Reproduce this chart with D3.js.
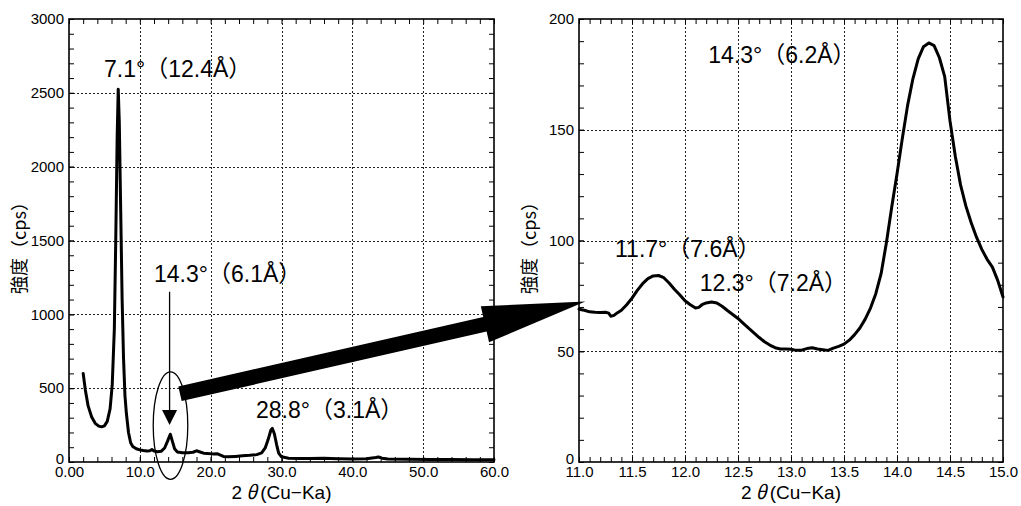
<!DOCTYPE html>
<html>
<head>
<meta charset="utf-8">
<script src="https://cdn.jsdelivr.net/npm/d3@7"></script>
<style>
  html, body { margin: 0; padding: 0; background: #fff; }
  svg { display: block; }
</style>
</head>
<body>
<svg id="chart" width="1021" height="506"></svg>
<script>
// ---- Full scan: 2θ (deg) vs intensity (cps)
const scanTheta = [2.0, 2.3, 2.7, 3.2, 3.7, 4.2, 4.6, 5.0, 5.4, 5.8, 6.1, 6.4, 6.6, 6.8, 6.95, 7.1, 7.3, 7.5, 7.7, 7.9,
  8.1, 8.4, 8.7, 9.0, 9.5, 10.0, 10.5, 11.0, 11.4, 11.7, 12.0, 12.5, 13.0, 13.5, 13.9, 14.3, 14.6, 14.9, 15.3, 16.0,
  16.8, 17.5, 18.0, 18.5, 19.0, 19.5, 20.3, 20.9, 21.3, 21.8, 22.5, 23.5, 24.5, 25.5, 26.5, 27.2, 27.7, 28.1, 28.5, 28.7,
  29.0, 29.3, 29.6, 30.0, 31.0, 32.5, 34.0, 36.0, 38.0, 40.0, 42.0, 43.3, 43.7, 44.2, 45.0, 48.0, 51.0, 54.0, 57.0, 60.0];
const scanCps = [600, 490, 380, 305, 262, 243, 238, 245, 275, 360, 520, 900, 1500, 2200, 2525, 2300, 1700, 1100, 700, 450,
  330, 200, 130, 105, 90, 82, 78, 75, 76, 84, 74, 70, 72, 95, 140, 188, 140, 90, 68, 62,
  62, 66, 76, 68, 60, 58, 55, 56, 48, 38, 35, 38, 42, 45, 50, 62, 95, 150, 215, 228,
  190, 120, 60, 35, 26, 24, 23, 25, 22, 20, 22, 30, 34, 26, 20, 18, 17, 17, 16, 15];

// ---- Detail scan 11–15°
const zoomTheta = [11.00, 11.05, 11.10, 11.15, 11.20, 11.25, 11.28, 11.30, 11.33, 11.36, 11.40, 11.45, 11.50, 11.55, 11.60,
  11.65, 11.70, 11.75, 11.80, 11.85, 11.90, 11.95, 12.00, 12.05, 12.10, 12.13, 12.16, 12.20, 12.25, 12.30, 12.35, 12.40,
  12.45, 12.50, 12.55, 12.60, 12.65, 12.70, 12.75, 12.80, 12.85, 12.90, 12.95, 13.00, 13.05, 13.10, 13.15, 13.20, 13.25,
  13.30, 13.35, 13.40, 13.45, 13.50, 13.55, 13.60, 13.65, 13.70, 13.75, 13.80, 13.85, 13.90, 13.95, 14.00, 14.05, 14.10,
  14.15, 14.20, 14.25, 14.30, 14.35, 14.40, 14.45, 14.50, 14.55, 14.60, 14.65, 14.70, 14.75, 14.80, 14.85, 14.90, 14.95, 15.00];
const zoomCps = [69, 68.5, 67.8, 67.6, 67.5, 67.6, 67.2, 65.8, 66.2, 67.3, 68.5, 71, 74, 77.5, 80.5,
  82.8, 84, 84.2, 83.2, 80.8, 78, 75.5, 72.8, 71, 69.5, 69.8, 71, 71.8, 72.2, 71.8, 70.3, 68.4,
  66.6, 64.8, 62.6, 60.4, 58.3, 56.2, 54.3, 52.8, 51.6, 51.0, 51.0, 50.9, 50.4, 50.5, 51.2, 51.6, 51.0,
  50.7, 50.4, 51.4, 52.2, 53.2, 55, 57.5, 60.5, 64.5, 69.5, 76, 85, 99, 115, 130, 146, 161,
  173, 182, 187.5, 189.2, 188, 182.5, 174, 154, 138, 125, 115.5, 108, 101.5, 96, 91.5, 88, 82, 74.5];

// ---- Axis ticks and labels
const scanXTicks = [0, 10, 20, 30, 40, 50, 60];
const scanXLabels = ["0.00", "10.0", "20.0", "30.0", "40.0", "50.0", "60.0"];
const scanYTicks = [0, 500, 1000, 1500, 2000, 2500, 3000];
const zoomXTicks = [11, 11.5, 12, 12.5, 13, 13.5, 14, 14.5, 15];
const zoomXLabels = ["11.0", "11.5", "12.0", "12.5", "13.0", "13.5", "14.0", "14.5", "15.0"];
const zoomYTicks = [0, 50, 100, 150, 200];

// ---- Peak labels (anchor in data units: 2θ, cps)
const scanPeakText = ["7.1°（12.4Å）", "14.3°（6.1Å）", "28.8°（3.1Å）"];
const scanPeakAt = [[4.94, 2607], [12.0, 1221], [26.4, 300]];
const zoomPeakText = ["14.3°（6.2Å）", "11.7°（7.6Å）", "12.3°（7.2Å）"];
const zoomPeakAt = [[12.22, 180], [11.34, 92.7], [12.14, 77.2]];

const yTitle = "強度（cps）";

const svg = d3.select("#chart");
const LATIN = "'Liberation Sans', 'Noto Sans CJK JP', Arial, sans-serif";
const CJK = "'Noto Sans CJK JP', 'Liberation Sans', sans-serif";

function drawPanel(cfg) {
  const x = d3.scaleLinear().domain(cfg.xDomain).range([cfg.left, cfg.right]);
  const y = d3.scaleLinear().domain(cfg.yDomain).range([cfg.bottom, cfg.top]);
  const g = svg.append("g");

  // dotted grid at major ticks
  const grid = g.append("g").attr("stroke", "#222").attr("stroke-width", 1).attr("stroke-dasharray", "2,2");
  grid.selectAll("line.vx").data(cfg.xTicks.slice(1, -1)).join("line")
    .attr("x1", d => Math.round(x(d)) + 0.5).attr("x2", d => Math.round(x(d)) + 0.5)
    .attr("y1", cfg.top).attr("y2", cfg.bottom);
  grid.selectAll("line.hy").data(cfg.yTicks.slice(1, -1)).join("line")
    .attr("y1", d => Math.round(y(d)) + 0.5).attr("y2", d => Math.round(y(d)) + 0.5)
    .attr("x1", cfg.left).attr("x2", cfg.right);

  const tick = 5;
  const styleAxis = sel => {
    sel.select(".domain").remove();
    sel.attr("font-family", LATIN).attr("font-size", 15);
    sel.selectAll("line").attr("stroke", "#000");
  };

  // inward ticks on all four sides
  g.append("g").attr("transform", `translate(0,${cfg.bottom})`)
    .call(d3.axisBottom(x).tickValues(cfg.xMinor).tickFormat("").tickSize(-tick).tickSizeOuter(0)).call(styleAxis);
  g.append("g").attr("transform", `translate(0,${cfg.top})`)
    .call(d3.axisTop(x).tickValues(cfg.xMinor).tickFormat("").tickSize(-tick).tickSizeOuter(0)).call(styleAxis);
  g.append("g").attr("transform", `translate(${cfg.left},0)`)
    .call(d3.axisLeft(y).tickValues(cfg.yMinor).tickFormat("").tickSize(-tick).tickSizeOuter(0)).call(styleAxis);
  g.append("g").attr("transform", `translate(${cfg.right},0)`)
    .call(d3.axisRight(y).tickValues(cfg.yMinor).tickFormat("").tickSize(-tick).tickSizeOuter(0)).call(styleAxis);

  // labelled axes
  g.append("g").attr("transform", `translate(0,${cfg.bottom})`)
    .call(d3.axisBottom(x).tickValues(cfg.xTicks).tickFormat((d, i) => cfg.xLabels[i])
      .tickSize(-tick).tickSizeOuter(0).tickPadding(4)).call(styleAxis);
  const yAx = g.append("g").attr("transform", `translate(${cfg.left},0)`)
    .call(d3.axisLeft(y).tickValues(cfg.yTicks).tickFormat(d => String(d))
      .tickSize(-tick).tickSizeOuter(0).tickPadding(5)).call(styleAxis);
  // the zero label sits just above the x labels
  yAx.selectAll(".tick text").filter(d => d === 0).attr("dy", "0.1em");

  // frame
  g.append("rect").attr("x", cfg.left).attr("y", cfg.top)
    .attr("width", cfg.right - cfg.left).attr("height", cfg.bottom - cfg.top)
    .attr("fill", "none").attr("stroke", "#000").attr("stroke-width", 1.6);

  // data trace
  const pts = cfg.xs.map((d, i) => [d, cfg.ys[i]]);
  g.append("path").datum(pts)
    .attr("fill", "none").attr("stroke", "#000").attr("stroke-width", 3)
    .attr("stroke-linejoin", "round").attr("stroke-linecap", "round")
    .attr("d", d3.line().x(d => x(d[0])).y(d => y(d[1])));

  // axis titles
  const xt = g.append("text")
    .attr("x", (cfg.left + cfg.right) / 2).attr("y", 499)
    .attr("text-anchor", "middle").attr("font-family", LATIN).attr("font-size", 19);
  xt.append("tspan").text("2");
  xt.append("tspan").attr("dx", 4).attr("font-family", CJK).attr("font-style", "italic").text("θ");
  xt.append("tspan").attr("dx", 3).text("(Cu−Ka)");

  g.append("text")
    .attr("transform", `translate(${cfg.yTitleX},${(cfg.top + cfg.bottom) / 2 + 3}) rotate(-90)`)
    .attr("text-anchor", "middle").attr("dominant-baseline", "central")
    .attr("font-family", CJK).attr("font-size", 18).text(yTitle);

  // peak labels
  g.selectAll("text.peak").data(cfg.peakText).join("text")
    .attr("class", "peak")
    .attr("x", (d, i) => x(cfg.peakAt[i][0])).attr("y", (d, i) => y(cfg.peakAt[i][1]))
    .attr("font-family", LATIN).attr("font-size", 23).text(d => d);

  return { x, y, g };
}

const scan = drawPanel({
  left: 69, right: 494, top: 19, bottom: 462,
  xDomain: [0, 60], yDomain: [0, 3000],
  xTicks: scanXTicks, xLabels: scanXLabels, yTicks: scanYTicks,
  xMinor: d3.range(0, 61, 2), yMinor: d3.range(0, 3001, 100),
  xs: scanTheta, ys: scanCps, yTitleX: 18,
  peakText: scanPeakText, peakAt: scanPeakAt
});

const zoom = drawPanel({
  left: 579, right: 1003, top: 19, bottom: 462,
  xDomain: [11, 15], yDomain: [0, 200],
  xTicks: zoomXTicks, xLabels: zoomXLabels, yTicks: zoomYTicks,
  xMinor: d3.range(110, 151).map(d => d / 10), yMinor: d3.range(0, 201, 10),
  xs: zoomTheta, ys: zoomCps, yTitleX: 528,
  peakText: zoomPeakText, peakAt: zoomPeakAt
});

// ---- Marker around the 14.3° reflection on the full scan
const ov = svg.append("g");
const ex = scan.x, ey = scan.y;
ov.append("ellipse")
  .attr("cx", ex(14.33)).attr("cy", ey(247))
  .attr("rx", ex(14.33 + 2.44) - ex(14.33)).attr("ry", ey(0) - ey(364))
  .attr("fill", "none").attr("stroke", "#000").attr("stroke-width", 1.3);

// thin pointer from the label down to the peak
const px = ex(14.2);
ov.append("line").attr("x1", px).attr("x2", px).attr("y1", ey(1153)).attr("y2", ey(352))
  .attr("stroke", "#000").attr("stroke-width", 1.3);
ov.append("path")
  .attr("d", `M${px - 7.5},${ey(352)} L${px + 7.5},${ey(352)} L${px},${ey(250)} Z`)
  .attr("fill", "#000");

// thick arrow from the full scan to the detail panel
const S = [ex(15.67), ey(462)];
const T = [zoom.x(11.06), zoom.y(72.5)];
const len = Math.hypot(T[0] - S[0], T[1] - S[1]);
const u = [(T[0] - S[0]) / len, (T[1] - S[1]) / len];
const n = [-u[1], u[0]];
const shaftHalf = 7.5, headHalf = 18.5, headLen = 103;
const B = [T[0] - u[0] * headLen, T[1] - u[1] * headLen];
const P = (p, k) => [p[0] + n[0] * k, p[1] + n[1] * k];
const arrowPts = [P(S, shaftHalf), P(B, shaftHalf), P(B, headHalf), T, P(B, -headHalf), P(B, -shaftHalf), P(S, -shaftHalf)];
ov.append("path").attr("d", "M" + arrowPts.map(p => p.join(",")).join("L") + "Z").attr("fill", "#000");
</script>
</body>
</html>
